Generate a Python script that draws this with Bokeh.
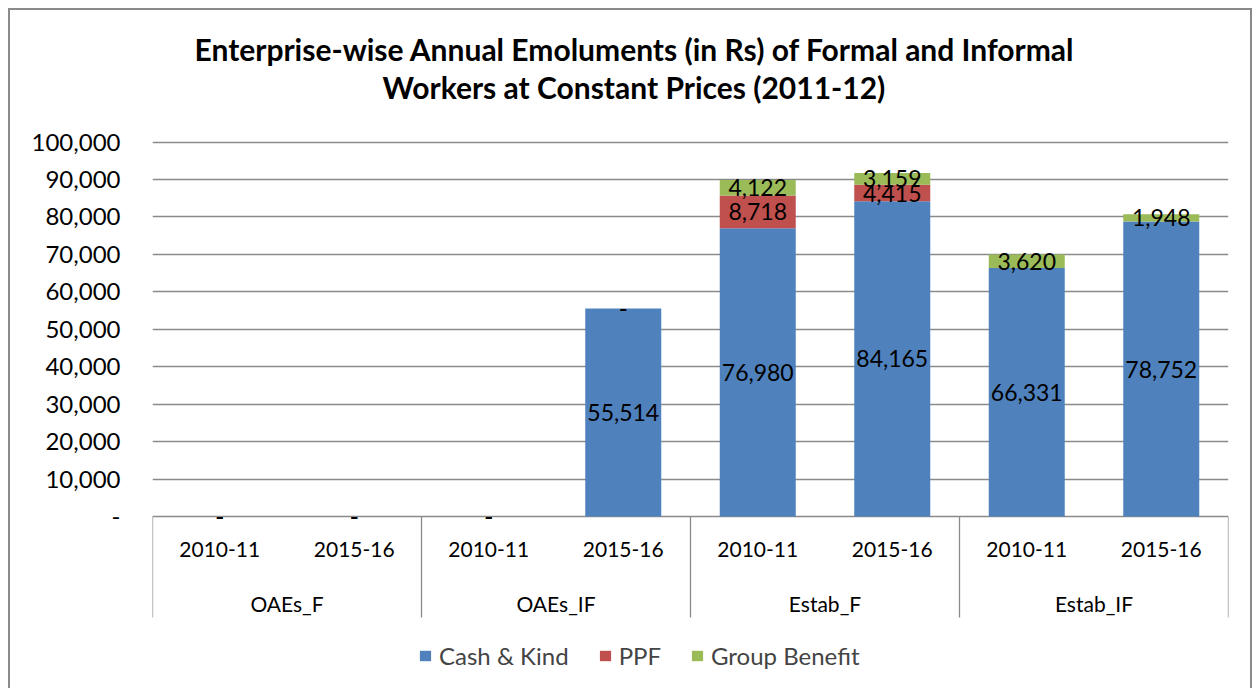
from bokeh.plotting import figure
from bokeh.models import (FactorRange, Range1d, FixedTicker, CustomJSTickFormatter,
                          ColumnDataSource, Legend, LegendItem, Title)
from bokeh.transform import dodge
from bokeh.core.properties import value
from bokeh.embed import file_html
from bokeh.resources import INLINE

# ---------------- data ----------------
groups = ["OAEs_F", "OAEs_IF", "Estab_F", "Estab_IF"]
years = ["2010-11", "2015-16"]
cash_kind = [0, 0, 0, 55514, 76980, 84165, 66331, 78752]
ppf = [0, 0, 0, 0, 8718, 4415, None, None]
group_benefit = [0, 0, 0, 0, 4122, 3159, 3620, 1948]
series_names = ["Cash & Kind", "PPF", "Group Benefit"]
y_ticks = [0, 10000, 20000, 30000, 40000, 50000, 60000, 70000, 80000, 90000, 100000]
title_lines = ["Enterprise-wise Annual Emoluments (in Rs) of Formal and Informal",
               "Workers at Constant Prices  (2011-12)"]

# ---------------- style ----------------
colors = ["#4f81bd", "#c0504d", "#9bbb59"]
FONT = "Lato"
GRID = "#8a8a8a"
W, H = 1244, 680
CANVAS_X, CANVAS_Y = 10, 10          # page position of canvas (8px margin + 2px border)
FRAME_L, FRAME_R, FRAME_T = 152, 1228, 104   # page px
Y0_PX, Y100_PX = 516, 141.5
S = (Y0_PX - Y100_PX) / 100000.0
y_end = (Y0_PX - FRAME_T) / S
y_start = -((CANVAS_Y + H) - Y0_PX) / S
Y_YEAR = -(549 - Y0_PX) / S
Y_GROUP = -(603 - Y0_PX) / S
Y_SEP = -(617 - Y0_PX) / S

factors = [(g, y) for g in groups for y in years]

p = figure(width=W, height=H, output_backend="svg", toolbar_location=None,
           x_range=FactorRange(*factors, range_padding=0, group_padding=0, factor_padding=0),
           y_range=Range1d(y_start, y_end), x_axis_location=None,
           min_border_left=FRAME_L - CANVAS_X, min_border_right=CANVAS_X + W - FRAME_R,
           min_border_top=FRAME_T - CANVAS_Y, min_border_bottom=0)
p.styles = {"margin-left": "8px", "margin-top": "8px",
            "border-top": "2px solid #8a8a8a", "border-left": "2px solid #8a8a8a",
            "border-right": "2px solid #8a8a8a"}
p.outline_line_color = None
p.background_fill_color = "white"
p.border_fill_color = "white"

# y axis
ax = p.yaxis[0]
ax.ticker = FixedTicker(ticks=y_ticks)
ax.formatter = CustomJSTickFormatter(code="return tick == 0 ? '-' : tick.toLocaleString('en-US');")
ax.axis_line_color = None
ax.major_tick_line_color = None
ax.minor_tick_line_color = None
ax.major_tick_in = 0
ax.major_tick_out = 0
ax.major_label_standoff = 32
ax.major_label_text_font = FONT
ax.major_label_text_font_size = "24px"
ax.major_label_text_color = "black"

p.xgrid.visible = False
p.ygrid.ticker = FixedTicker(ticks=y_ticks)
p.ygrid.grid_line_color = GRID
p.ygrid.grid_line_width = 1.3

# stacked bars
series = [cash_kind, ppf, group_benefit]
bottom = [0] * len(factors)
renderers = []
label_sources = []
for vals, name, col in zip(series, series_names, colors):
    xs, bots, tops, lx, ly, lt = [], [], [], [], [], []
    for i, v in enumerate(vals):
        if v is None:
            continue
        xs.append(factors[i]); bots.append(bottom[i]); tops.append(bottom[i] + v)
        lx.append(factors[i]); ly.append(bottom[i] + v / 2.0)
        lt.append("-" if v == 0 else f"{v:,}")
        bottom[i] += v
    src = ColumnDataSource(dict(x=xs, bottom=bots, top=tops))
    r = p.vbar(x="x", bottom="bottom", top="top", width=0.565, source=src,
               fill_color=col, line_color=None)
    renderers.append(r)
    label_sources.append(ColumnDataSource(dict(x=lx, y=ly, t=lt)))

for ls in label_sources:
    p.text(x="x", y="y", text="t", source=ls, text_align="center", text_baseline="middle",
           text_font=value(FONT), text_font_size="23px", text_color="black")

# category axis drawn manually (two levels with separators)
p.text(x=factors, y=[Y_YEAR] * len(factors), text=[f[1] for f in factors],
       text_align="center", text_baseline="middle", text_font=value(FONT),
       text_font_size="21px", text_color="black")
p.text(x=groups, y=[Y_GROUP] * len(groups), text=groups,
       text_align="center", text_baseline="middle", text_font=value(FONT),
       text_font_size="21px", text_color="black")
first_of_group = ColumnDataSource(dict(x=[(g, years[0]) for g in groups],
                                       y0=[0] * len(groups), y1=[Y_SEP] * len(groups)))
p.segment(x0=dodge("x", -0.5, range=p.x_range), x1=dodge("x", -0.5, range=p.x_range),
          y0="y0", y1="y1", source=first_of_group, line_color=GRID, line_width=1.3)
last_one = ColumnDataSource(dict(x=[factors[-1]], y0=[0], y1=[Y_SEP]))
p.segment(x0=dodge("x", 0.5, range=p.x_range), x1=dodge("x", 0.5, range=p.x_range),
          y0="y0", y1="y1", source=last_one, line_color=GRID, line_width=1.3)

# legend
legend = Legend(items=[LegendItem(label=n, renderers=[r]) for n, r in zip(series_names, renderers)],
                orientation="horizontal", location=(266, 20), border_line_color=None,
                background_fill_alpha=0, padding=0, margin=0, spacing=29,
                glyph_width=14, glyph_height=13, label_standoff=7,
                label_text_font=FONT, label_text_font_size="24px")
p.add_layout(legend)

# title (two lines)
t2 = Title(text=title_lines[1], align="left", offset=230, text_font=FONT,
           text_font_size="30px", text_font_style="bold", text_color="black", standoff=0)
t1 = Title(text=title_lines[0], align="left", offset=42, text_font=FONT,
           text_font_size="30px", text_font_style="bold", text_color="black", standoff=0)
p.add_layout(t2, "above")
p.add_layout(t1, "above")

open("out.html", "w").write(file_html(p, INLINE))
